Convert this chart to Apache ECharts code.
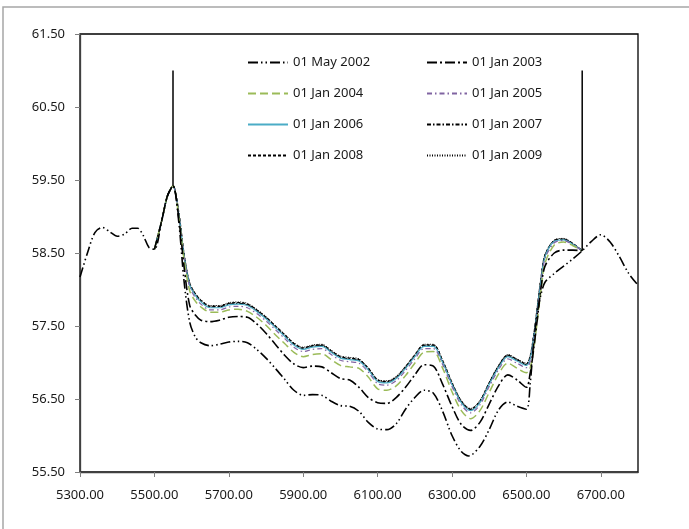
<!DOCTYPE html>
<html>
<head>
<meta charset="utf-8">
<script src="https://cdn.jsdelivr.net/npm/echarts@6/dist/echarts.min.js"></script>
<style>
  html, body { margin: 0; padding: 0; background: #fff; }
  #chart { width: 689px; height: 529px; }
</style>
</head>
<body>
<div id="chart"></div>
<script>
// Axis ticks
const xTicks = [5300, 5500, 5700, 5900, 6100, 6300, 6500, 6700];
const yTicks = [55.5, 56.5, 57.5, 58.5, 59.5, 60.5, 61.5];

// Series names
const names = ['01 May 2002', '01 Jan 2003', '01 Jan 2004', '01 Jan 2005',
               '01 Jan 2006', '01 Jan 2007', '01 Jan 2008', '01 Jan 2009'];

// Chainage for the 2002 profile (full length)
const x2002 = [5300,5320,5340,5360,5380,5400,5420,5440,5455,5470,5485,5500,5520,5535,5550,5565,5580,5595,5610,5625,
  5650,5675,5700,5725,5750,5775,5800,5825,5850,5875,5900,5925,5950,5975,6000,6025,6050,6075,6100,6125,6150,6175,6200,
  6225,6250,6275,6300,6325,6345,6375,6400,6425,6450,6475,6500,6510,6520,6530,6540,6550,6575,6600,6625,6650,6675,6700,
  6725,6750,6775,6800];
const y2002 = [58.17,58.50,58.78,58.85,58.79,58.73,58.76,58.84,58.84,58.74,58.58,58.55,58.95,59.28,59.42,58.95,58.10,57.55,57.35,57.27,
  57.23,57.25,57.28,57.29,57.27,57.18,57.06,56.92,56.77,56.62,56.55,56.56,56.55,56.47,56.41,56.40,56.33,56.18,56.09,56.08,56.16,56.36,56.52,
  56.62,56.58,56.33,56.00,55.78,55.72,55.85,56.08,56.35,56.46,56.40,56.36,56.70,57.30,57.70,57.95,58.10,58.22,58.32,58.42,58.53,58.66,58.75,
  58.65,58.45,58.22,58.06];

// Chainage for the later surveys (between the two fixed sections)
const xLater = [5500,5520,5535,5550,5565,5580,5595,5610,5625,5650,5675,5700,5725,5750,5775,5800,5825,5850,5875,5900,
  5925,5950,5975,6000,6025,6050,6075,6100,6125,6150,6175,6200,6225,6250,6275,6300,6325,6350,6375,6400,6425,6450,
  6475,6500,6510,6520,6530,6540,6550,6575,6600,6625,6650];

const y2003 = [58.55,58.95,59.28,59.42,59.00,58.30,57.78,57.65,57.58,57.56,57.58,57.62,57.63,57.62,57.53,57.40,57.25,57.10,56.98,56.93,
  56.95,56.94,56.86,56.78,56.76,56.66,56.52,56.45,56.44,56.52,56.66,56.83,56.97,56.95,56.70,56.40,56.15,56.07,56.18,56.43,56.68,56.83,
  56.76,56.66,56.85,57.20,57.62,58.05,58.32,58.50,58.54,58.54,58.53];
const y2004 = [58.55,58.95,59.28,59.42,59.02,58.40,57.98,57.84,57.76,57.69,57.69,57.72,57.73,57.70,57.62,57.51,57.38,57.26,57.14,57.08,
  57.11,57.12,57.04,56.96,56.94,56.92,56.80,56.64,56.62,56.68,56.82,56.99,57.14,57.15,56.92,56.60,56.34,56.23,56.34,56.59,56.84,56.99,
  56.92,56.86,56.92,57.20,57.60,58.02,58.36,58.61,58.65,58.60,58.53];
const y2005 = [58.55,58.95,59.28,59.42,59.04,58.43,58.03,57.89,57.80,57.72,57.72,57.76,57.77,57.75,57.67,57.57,57.45,57.33,57.21,57.15,
  57.18,57.19,57.11,57.03,57.01,56.99,56.87,56.71,56.69,56.75,56.89,57.05,57.19,57.19,56.97,56.67,56.42,56.31,56.42,56.67,56.90,57.05,
  56.99,56.93,57.01,57.30,57.70,58.10,58.42,58.64,58.67,58.61,58.53];
const y2006 = [58.55,58.95,59.28,59.42,59.05,58.45,58.06,57.92,57.83,57.75,57.75,57.79,57.80,57.78,57.70,57.60,57.48,57.36,57.24,57.18,
  57.21,57.22,57.14,57.06,57.04,57.02,56.90,56.74,56.72,56.78,56.92,57.08,57.22,57.22,57.00,56.70,56.45,56.34,56.45,56.70,56.93,57.08,
  57.02,56.96,57.05,57.35,57.75,58.15,58.45,58.66,58.68,58.62,58.53];
const y2007 = [58.55,58.95,59.28,59.42,59.06,58.46,58.07,57.93,57.84,57.76,57.76,57.80,57.81,57.79,57.71,57.61,57.49,57.37,57.25,57.19,
  57.22,57.23,57.15,57.07,57.05,57.03,56.91,56.75,56.73,56.79,56.93,57.09,57.23,57.23,57.01,56.71,56.46,56.35,56.46,56.71,56.94,57.09,
  57.03,56.97,57.07,57.37,57.77,58.17,58.46,58.67,58.69,58.62,58.53];
const y2008 = [58.55,58.95,59.28,59.42,59.07,58.47,58.08,57.94,57.85,57.77,57.77,57.81,57.82,57.80,57.72,57.62,57.50,57.38,57.26,57.20,
  57.23,57.24,57.16,57.08,57.06,57.04,56.92,56.76,56.74,56.80,56.94,57.10,57.24,57.24,57.02,56.72,56.47,56.36,56.47,56.72,56.95,57.10,
  57.04,56.98,57.08,57.38,57.78,58.18,58.47,58.67,58.69,58.63,58.53];
const y2009 = [58.55,58.95,59.28,59.42,59.08,58.48,58.09,57.95,57.86,57.78,57.78,57.82,57.83,57.81,57.73,57.63,57.51,57.39,57.27,57.21,
  57.24,57.25,57.17,57.09,57.07,57.05,56.93,56.77,56.75,56.81,56.95,57.11,57.25,57.25,57.03,56.73,56.48,56.37,56.48,56.73,56.96,57.11,
  57.05,56.99,57.09,57.39,57.79,58.19,58.48,58.68,58.70,58.63,58.53];

// Fixed section markers: chainage, bed level at the section, top of marker
const markerX = [5550, 6650];
const markerBase = [59.42, 58.53];
const markerTop = 61.0;

const pair = (xs, ys) => xs.map((x, i) => [x, ys[i]]);

const styles = [
  { color: '#000000', width: 1.6, type: [10, 3, 1.5, 3, 1.5, 3] },
  { color: '#000000', width: 1.6, type: [10, 3, 2, 3] },
  { color: '#9bbb59', width: 1.5, type: [8, 4] },
  { color: '#8064a2', width: 1.2, type: [5, 3, 1.5, 3] },
  { color: '#4bacc6', width: 1.2, type: 'solid' },
  { color: '#000000', width: 1.2, type: [4, 2, 1.5, 2] },
  { color: '#000000', width: 1.4, type: [3, 2] },
  { color: '#000000', width: 1.0, type: [1, 1.5] }
];

const seriesData = [
  pair(x2002, y2002), pair(xLater, y2003), pair(xLater, y2004), pair(xLater, y2005),
  pair(xLater, y2006), pair(xLater, y2007), pair(xLater, y2008), pair(xLater, y2009)
];

const series = names.map((n, i) => ({
  name: n,
  type: 'line',
  data: seriesData[i],
  smooth: 0.3,
  symbol: 'none',
  lineStyle: styles[i],
  itemStyle: { color: styles[i].color },
  z: 10 - i
}));

markerX.forEach((x, i) => {
  series.push({
    name: 'marker' + i,
    type: 'line',
    data: [[x, markerBase[i]], [x, markerTop]],
    symbol: 'none',
    lineStyle: { color: '#000', width: 1.5, type: 'solid' },
    z: 20
  });
});

const font = 'Noto Sans';
const legendCommon = {
  orient: 'vertical',
  top: 51,
  itemWidth: 40,
  itemHeight: 12,
  itemGap: 18,
  itemStyle: { opacity: 0 },
  textStyle: { fontFamily: font, fontSize: 13, color: '#1a1a1a' }
};

const chart = echarts.init(document.getElementById('chart'), null, { renderer: 'canvas' });
chart.setOption({
  animation: false,
  backgroundColor: '#fff',
  grid: {
    left: 80, right: 51, top: 34, bottom: 57,
    containLabel: false,
    outerBoundsMode: 'none',
    show: true, borderColor: '#000', borderWidth: 1.3, backgroundColor: 'transparent'
  },
  legend: [
    Object.assign({ left: 242, data: [names[0], names[2], names[4], names[6]] }, legendCommon),
    Object.assign({ left: 421, data: [names[1], names[3], names[5], names[7]] }, legendCommon)
  ],
  xAxis: {
    type: 'value', min: 5300, max: 6800,
    axisLine: { show: true, lineStyle: { color: '#404040', width: 1.3 } },
    axisTick: { show: true, length: 5, inside: false, customValues: xTicks, lineStyle: { color: '#808080' } },
    axisLabel: {
      customValues: xTicks, margin: 17,
      formatter: v => v.toFixed(2),
      fontFamily: font, fontSize: 13, color: '#1a1a1a'
    },
    splitLine: { show: false }
  },
  yAxis: {
    type: 'value', min: 55.5, max: 61.5,
    axisLine: { show: true, lineStyle: { color: '#404040', width: 1.3 } },
    axisTick: { show: true, length: 5, inside: false, customValues: yTicks, lineStyle: { color: '#808080' } },
    axisLabel: {
      customValues: yTicks, margin: 15,
      formatter: v => v.toFixed(2),
      fontFamily: font, fontSize: 13, color: '#1a1a1a'
    },
    splitLine: { show: false }
  },
  graphic: [{
    type: 'rect',
    shape: { x: 3, y: 7, width: 720, height: 560 },
    style: { fill: 'none', stroke: '#a6a6a6', lineWidth: 1.5 },
    silent: true, z: -10
  }],
  series: series
});
</script>
</body>
</html>
